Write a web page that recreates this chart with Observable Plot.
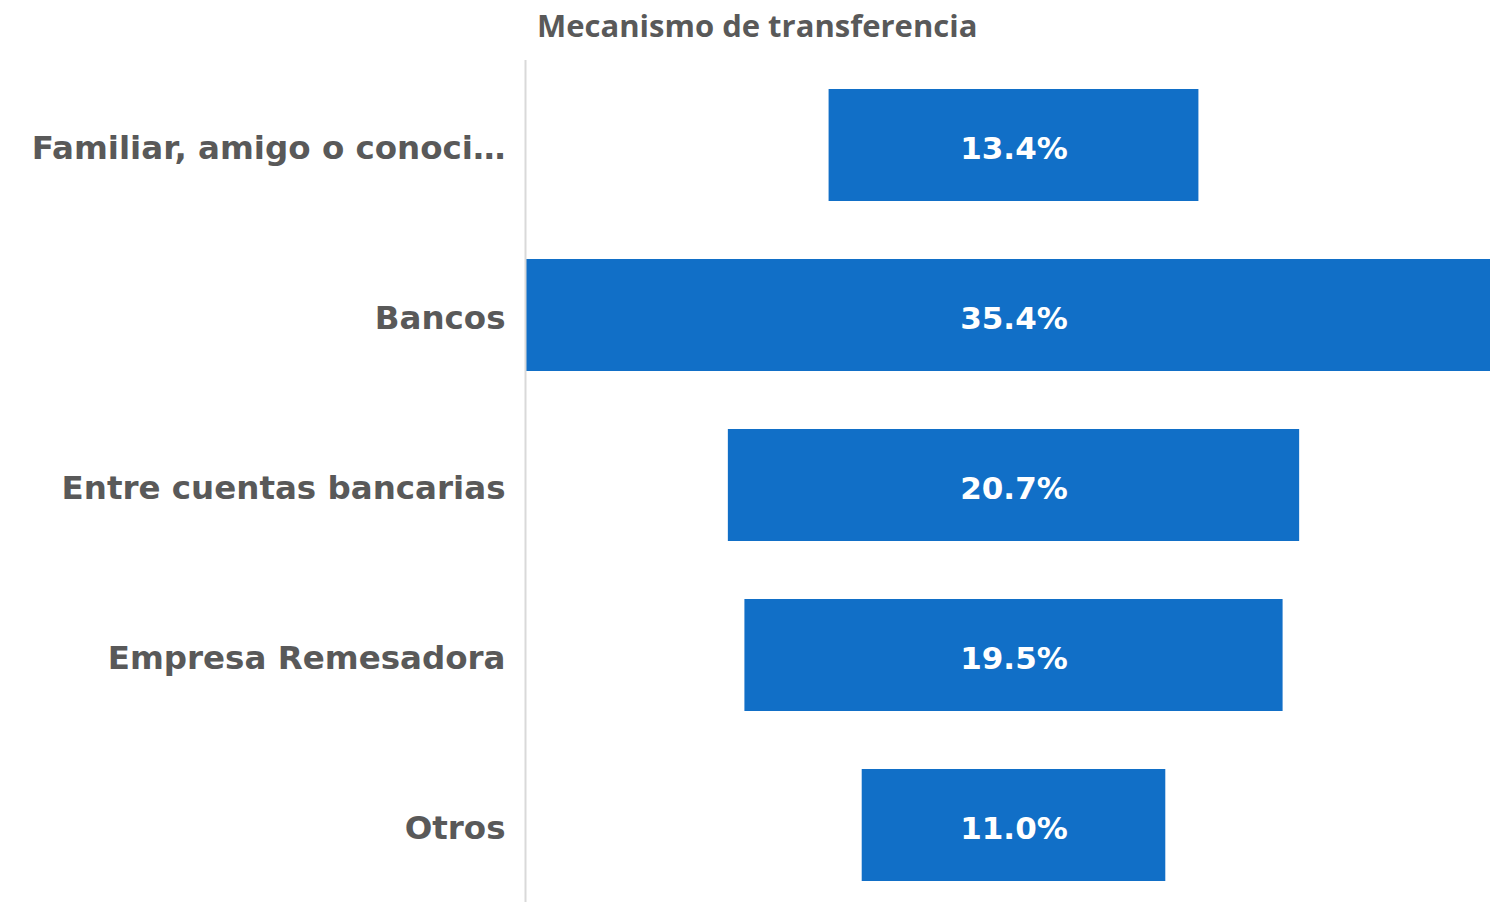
<!DOCTYPE html>
<html>
<head>
<meta charset="utf-8">
<script src="https://cdn.jsdelivr.net/npm/d3@7"></script>
<script src="https://cdn.jsdelivr.net/npm/@observablehq/plot@0.6"></script>
<style>
  html, body { margin: 0; padding: 0; background: #fff; overflow: hidden; }
  #title { position: absolute; left: 537px; top: 4px; font-family: "Open Sans", sans-serif; font-weight: 700; font-size: 31px; color: #595959; white-space: nowrap; }
  #chart { position: absolute; left: 0; top: 60px; }
</style>
</head>
<body>
<div id="title">Mecanismo de transferencia</div>
<div id="chart"></div>
<script>
const categories = ["Familiar, amigo o conoci…", "Bancos", "Entre cuentas bancarias", "Empresa Remesadora", "Otros"];
const values = [13.4, 35.4, 20.7, 19.5, 11.0];
const labels = ["13.4%", "35.4%", "20.7%", "19.5%", "11.0%"];

const data = categories.map((c, i) => ({cat: c, v: values[i], label: labels[i]}));
const half = d3.max(values) / 2;

const chart = Plot.plot({
  width: 1490,
  height: 850,
  marginLeft: 525,
  marginRight: 0,
  marginTop: 0,
  marginBottom: 0,
  style: {fontFamily: "'DejaVu Sans', sans-serif", background: "#fff"},
  x: {domain: [-half, half * 476.5 / 488.5], axis: null},
  y: {domain: categories, paddingInner: 0.34, paddingOuter: 0.17, label: null},
  marks: [
    Plot.barX(data, {x1: d => -d.v / 2, x2: d => d.v / 2, y: "cat", fill: "#116fc7", clip: true}),
    Plot.text(data, {x: 0, y: "cat", text: "label", fill: "#fff", fontSize: 31, fontWeight: "bold", dy: 4}),
    Plot.axisY({tickSize: 0, tickPadding: 20, fontSize: 32.5, fontWeight: "bold", fill: "#595959", textAnchor: "end", dy: 3}),
    Plot.ruleX([-half], {stroke: "#d9d9d9", strokeWidth: 2})
  ]
});
document.getElementById("chart").appendChild(chart);
</script>
</body>
</html>
